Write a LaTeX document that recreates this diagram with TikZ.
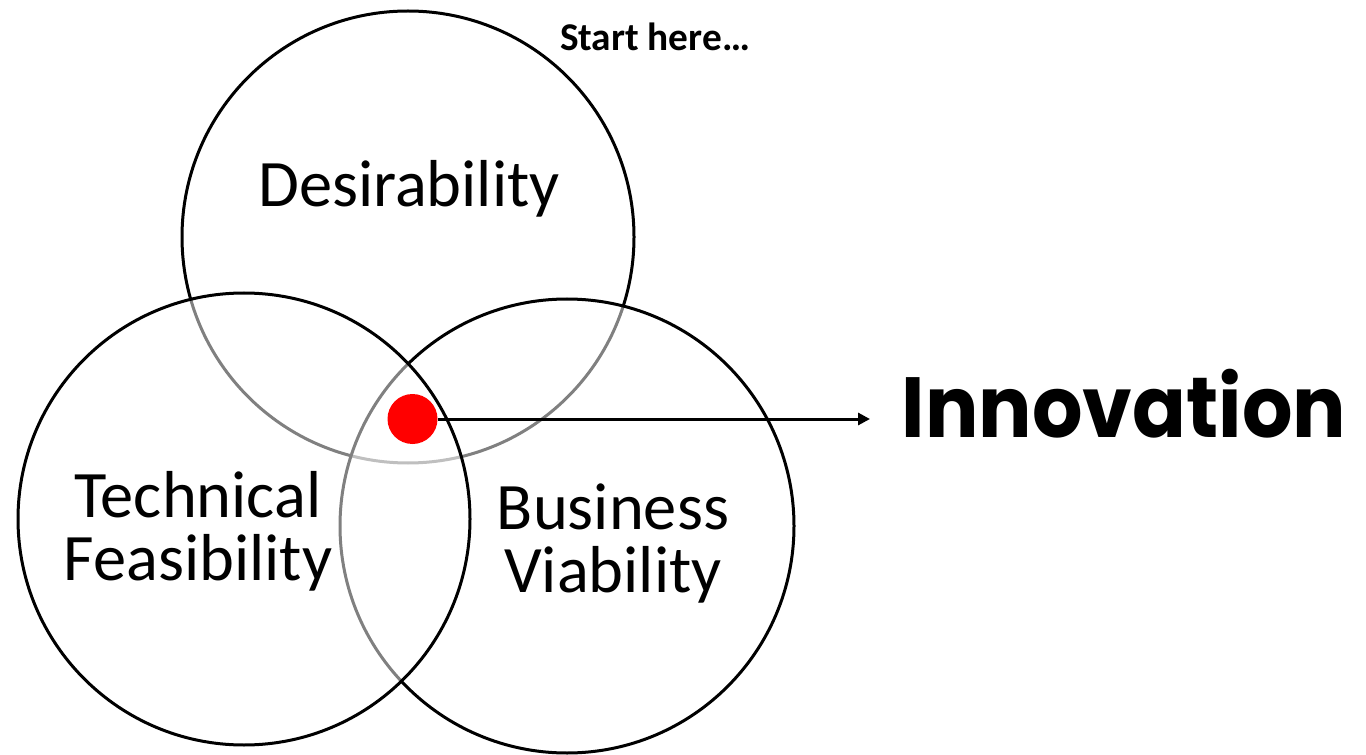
\documentclass[tikz,border=0pt]{standalone}
\usepackage{fontspec}
\setmainfont{Carlito}
\newfontfamily\poppfont{Poppins}
\usetikzlibrary{arrows.meta}
\tikzset{
  ring/.style={draw=black, line width=2.25pt},
  ringtop/.style={ring, fill=white, fill opacity=0.5},
  lbl/.style={font=\fontsize{49.8pt}{47.25pt}\selectfont, align=center, anchor=base, inner sep=0pt},
}
\begin{document}
\begin{tikzpicture}[x=0.75pt, y=-0.75pt]
\useasboundingbox (0,0) rectangle (1366,755);
\fill[white] (0,0) rectangle (1366,755);
% circles
\draw[ring, fill=white] (408,237) circle[radius=226];
\draw[ringtop] (567,526) circle[radius=227];
\draw[ringtop] (244,519) circle[radius=226];
% labels
\node[lbl] (des) at (409,207) {Desirability};
\node[lbl] (tech) at (198,580) {Technical\\Feasibility};
\node[lbl] (bus) at (613,592) {Business\\Viability};
\node[anchor=base, inner sep=0pt, font=\fontsize{29.5pt}{32pt}\selectfont\bfseries] (start) at (655,51) {Start here…};
% innovation
\node[circle, fill=red, minimum size=37.5pt, inner sep=0pt] (dot) at (412.5,419) {};
\node[anchor=base, inner sep=0pt, font=\poppfont\bfseries\fontsize{64pt}{70pt}\selectfont] (innov) at (1124,437) {\scalebox{0.93}[1]{Innovation}};
\coordinate (tip) at (870,419);
\draw[line width=2.25pt, -{Triangle[length=9pt,width=9pt]}] (dot.east) -- (tip);
\end{tikzpicture}
\end{document}
